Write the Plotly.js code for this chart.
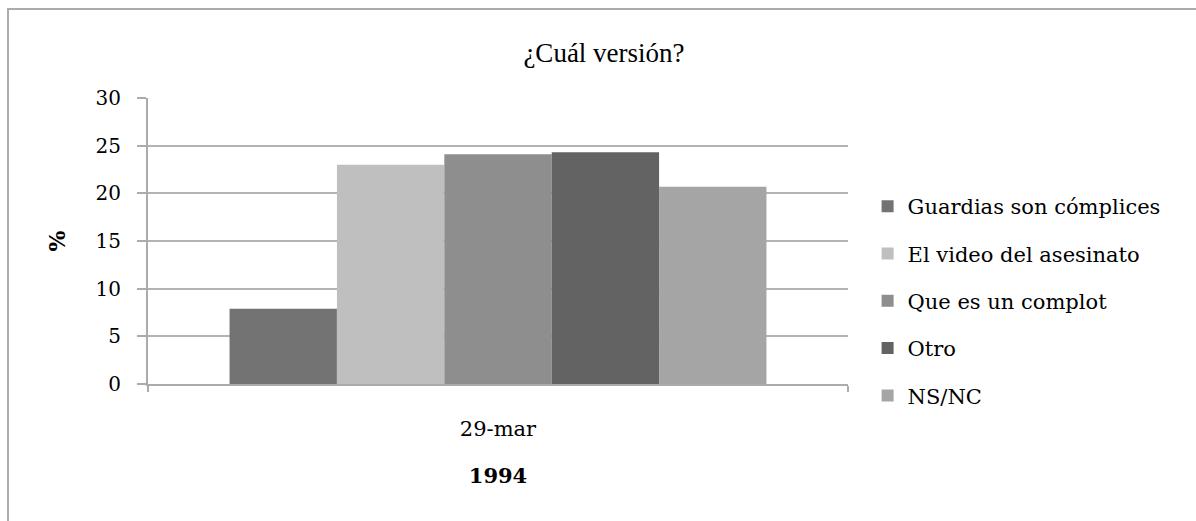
<!DOCTYPE html>
<html>
<head>
<meta charset="utf-8">
<script src="https://cdn.plot.ly/plotly-3.0.1.min.js"></script>
<style>
html,body{margin:0;padding:0;overflow:hidden;background:#fff;width:1196px;height:521px;}
#frame{position:absolute;left:7px;top:8px;width:1300px;height:600px;border-left:2px solid #ababab;border-top:2px solid #ababab;}
#chart{position:absolute;left:0;top:0;width:1196px;height:521px;}
</style>
</head>
<body>
<div id="frame"></div>
<div id="chart"></div>
<script>
const categories = ["29-mar"];
const seriesNames = ["Guardias son cómplices", "El video del asesinato", "Que es un complot", "Otro", "NS/NC"];
const seriesValues = [[7.9], [23.0], [24.1], [24.3], [20.7]];
const seriesColors = ["#737373", "#bfbfbf", "#8e8e8e", "#636363", "#a5a5a5"];
const yTicks = [0, 5, 10, 15, 20, 25, 30];

const serif = "'DejaVu Serif', serif";
const traces = seriesNames.map((name, i) => ({
  type: "bar",
  name: name,
  x: categories,
  y: seriesValues[i],
  marker: {color: seriesColors[i]},
  legendgroup: "g" + i,
  hoverinfo: "skip"
}));

const layout = {
  width: 1196, height: 521,
  paper_bgcolor: "rgba(0,0,0,0)",
  plot_bgcolor: "rgba(0,0,0,0)",
  margin: {l: 148, r: 348, t: 98, b: 137},
  barmode: "group",
  bargap: 0.233,
  bargroupgap: 0,
  showlegend: true,
  title: {text: "¿Cuál versión?", x: 604 / 1196, xref: "container", xanchor: "center", y: 1 - 53 / 521, yref: "container", yanchor: "middle",
          font: {family: "'Liberation Serif', 'Times New Roman', serif", size: 27, color: "#000"}},
  legend: {x: 1.028, xanchor: "left", y: 0.29, yanchor: "middle", tracegroupgap: 17,
           font: {family: serif, size: 21, color: "#000"},
           itemwidth: 30, traceorder: "grouped", bgcolor: "rgba(0,0,0,0)"},
  xaxis: {
    type: "category",
    showgrid: false,
    showline: true, linecolor: "#ababab", linewidth: 2,
    ticks: "outside", tickson: "boundaries", ticklen: 6, tickcolor: "#ababab", tickwidth: 2,
    ticklabelstandoff: 25,
    tickfont: {family: serif, size: 21, color: "#000"},
    title: {text: "<b>1994</b>", standoff: 28, font: {family: serif, size: 21, color: "#000"}},
    fixedrange: true
  },
  yaxis: {
    range: [0, 30],
    tickvals: yTicks,
    ticktext: yTicks.map(String),
    showgrid: true, gridcolor: "#b3b3b3", gridwidth: 2,
    zeroline: false,
    showline: true, linecolor: "#ababab", linewidth: 2,
    ticks: "outside", ticklen: 9, tickcolor: "#ababab", tickwidth: 2,
    ticklabelstandoff: 12,
    tickfont: {family: serif, size: 20, color: "#000"},
    title: {text: "<b>%</b>", standoff: 24, font: {family: serif, size: 22, color: "#000"}},
    fixedrange: true
  }
};

Plotly.newPlot("chart", traces, layout, {displayModeBar: false, staticPlot: true});
</script>
</body>
</html>
